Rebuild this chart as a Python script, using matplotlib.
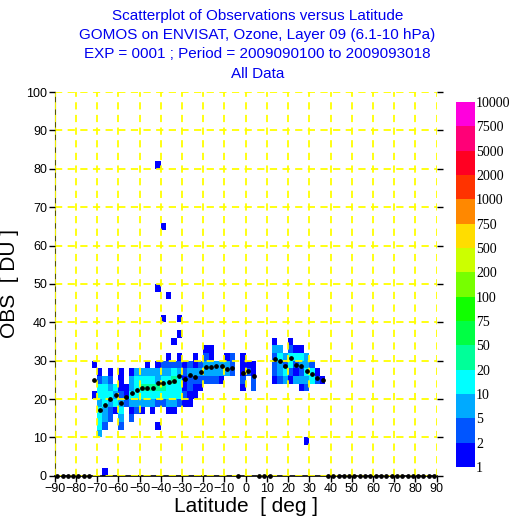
import numpy as np
import matplotlib.pyplot as plt
from matplotlib.colors import ListedColormap, BoundaryNorm

plt.rcParams['font.family'] = ['Liberation Sans', 'DejaVu Sans']

title_lines = [
    "Scatterplot of Observations versus Latitude",
    "GOMOS on ENVISAT, Ozone, Layer 09 (6.1-10 hPa)",
    "EXP = 0001 ; Period = 2009090100 to 2009093018",
    "All Data",
]

# histogram grid: 2.5 deg latitude x 2 DU
lat_edges = np.arange(-90, 92.5, 2.5)
obs_edges = np.arange(0, 102, 2)

# colour scale of the counts
cb_bounds = [1, 2, 5, 10, 20, 50, 75, 100, 200, 500, 750, 1000, 2000, 5000, 7500, 10000]
cb_colors = ['#0000ff', '#0055ff', '#00aaff', '#00ffff', '#00ff99', '#00ff44',
             '#11ff00', '#77ff00', '#ccff00', '#ffdd00', '#ff8800', '#ff3300',
             '#ff0022', '#ff0077', '#ff00dd']

# cell counts by class, one char per cell
count_of = {'.': 0, '1': 1, '2': 3, '3': 7, '4': 15, '5': 30}

# southern / tropical cluster: lat -72.5 .. 5, rows from DU 34-36 down to DU 10-12
south_lat0 = -72.5
south_top = 34
south_rows = [
    "...............1...............",
    ".....................11........",
    "..............1.1..1.21..12.1..",
    "1.........1.122221212333332.111",
    ".1.1.1.13333333432333333332.121",
    ".232.1.344443445412222221...2.2",
    ".44341134555554441211.......1.2",
    "14443214444444444211...........",
    ".343432333332233211............",
    ".43214.121.1..11...............",
    ".432.3.2.......................",
    ".42..2......1..................",
    ".3.............................",
]

# northern mid-latitude cluster: lat 12.5 .. 37.5, rows from DU 34-36 down to DU 22-24
north_lat0 = 12.5
north_top = 34
north_rows = [
    "1..1......",
    "33.211....",
    "2434443...",
    "23242332..",
    "234212441.",
    "1231333421",
    ".....12...",
]

# single observations away from the clusters (lower bin edges)
outlier_lat = [-42.5, -40, -42.5, -37.5, -40, -32.5, -32.5, -67.5, 27.5]
outlier_obs = [80, 64, 48, 46, 40, 40, 36, 0, 8]

# mean OBS per latitude bin (bins without data sit at 0)
mean_lat = [-71.25, -68.75, -66.25, -63.75, -61.25, -58.75, -56.25, -53.75,
            -51.25, -48.75, -46.25, -43.75, -41.25, -38.75, -36.25, -33.75,
            -31.25, -28.75, -26.25, -23.75, -21.25, -18.75, -16.25, -13.75,
            -11.25, -8.75, -6.25, -1.25, 1.25, 3.75,
            13.75, 16.25, 18.75, 21.25, 23.75, 26.25, 28.75, 31.25, 33.75, 36.25]
mean_obs = [25.0, 17.1, 18.4, 20.1, 21.0, 18.9, 20.5, 21.6,
            22.3, 22.9, 22.9, 23.0, 24.3, 24.1, 24.4, 24.6,
            26.0, 25.3, 26.3, 25.7, 27.0, 28.3, 28.4, 28.6,
            28.7, 27.7, 28.1, 26.8, 27.3, 26.1,
            30.4, 29.8, 28.6, 30.7, 29.0, 28.7, 27.4, 26.5, 25.6, 25.0]


def fill_block(H, rows, lat0, top):
    i0 = int(round((lat0 - lat_edges[0]) / 2.5))
    for r, row in enumerate(rows):
        j = int(round((top - obs_edges[0]) / 2)) - r
        for k, ch in enumerate(row):
            H[j, i0 + k] += count_of[ch]


H = np.zeros((len(obs_edges) - 1, len(lat_edges) - 1))
fill_block(H, south_rows, south_lat0, south_top)
fill_block(H, north_rows, north_lat0, north_top)
for la, ob in zip(outlier_lat, outlier_obs):
    H[int(ob // 2), int(round((la + 90) / 2.5))] += 1

centers = (lat_edges[:-1] + lat_edges[1:]) / 2
means = np.zeros(len(centers))
for la, m in zip(mean_lat, mean_obs):
    means[np.argmin(np.abs(centers - la))] = m

cmap = ListedColormap(cb_colors)
norm = BoundaryNorm(cb_bounds, cmap.N)

fig = plt.figure(figsize=(5.15, 5.2), dpi=100)
ax = fig.add_axes([0.106, 0.085, 0.742, 0.738])

mesh = ax.pcolormesh(lat_edges, obs_edges, np.ma.masked_equal(H, 0),
                     cmap=cmap, norm=norm, zorder=1)

ax.set_xlim(-90, 90)
ax.set_ylim(0, 100)
ax.set_xticks(np.arange(-90, 91, 10))
ax.set_yticks(np.arange(0, 101, 10))
ax.grid(True, color='#ffff00', linestyle=(0, (4, 3)), linewidth=1.3, zorder=2)
ax.set_axisbelow(False)
ax.tick_params(axis='both', direction='out', length=4, width=1,
               labelsize=9, pad=1.5, right=True)

ax.spines['top'].set_visible(False)
ax.spines['right'].set_visible(False)
ax.spines['left'].set_color('#555500')
ax.spines['bottom'].set_linewidth(1.2)

ax.plot(centers, means, 'o', color='k', ms=2.4, zorder=4, clip_on=False)

ax.set_xlabel("Latitude  [ deg ]", fontsize=15, labelpad=1)
ax.set_ylabel("OBS  [ DU ]", fontsize=15, labelpad=5)

for i, line in enumerate(title_lines):
    fig.text(0.5, 0.969 - i * 0.0368, line, ha='center', va='center',
             fontsize=11, color='#0000ee')

cax = fig.add_axes([0.885, 0.102, 0.037, 0.702])
cb = fig.colorbar(mesh, cax=cax, spacing='uniform', ticks=cb_bounds)
cb.outline.set_visible(False)
cax.tick_params(length=0, pad=1)
cax.set_yticklabels([str(b) for b in cb_bounds], family='Liberation Serif', fontsize=10)

fig.savefig('out.png', dpi=100)
